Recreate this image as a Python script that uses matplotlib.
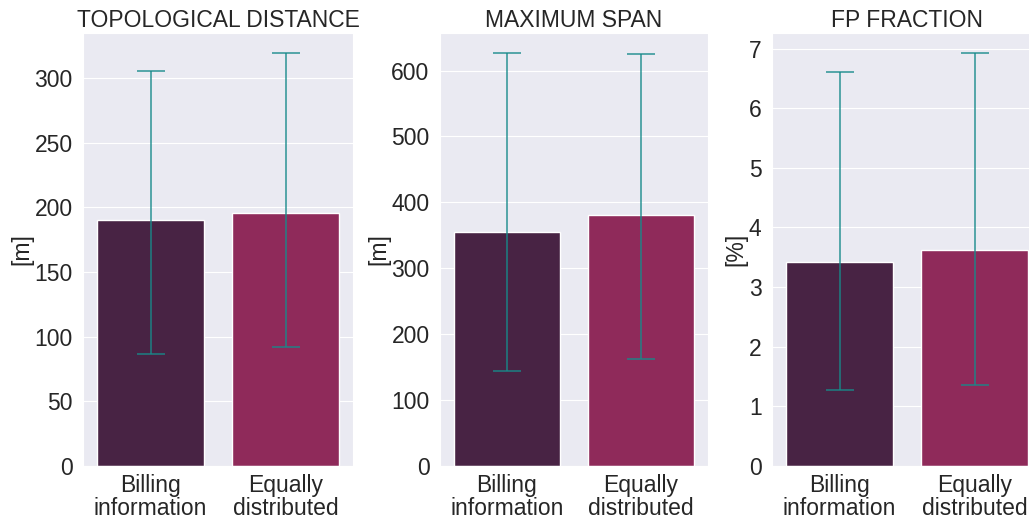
import numpy as np
import matplotlib
matplotlib.use("Agg")
import matplotlib.pyplot as plt
import seaborn as sns

sns.set_style("darkgrid")
plt.rcParams['font.family'] = ['Liberation Sans', 'DejaVu Sans']

# Scenario labels and summary values per metric (mean, lower / upper error bound)
scenarios = ["Billing\ninformation", "Equally\ndistributed"]
titles = ["TOPOLOGICAL DISTANCE", "MAXIMUM SPAN", "FP FRACTION"]
units = ["[m]", "[m]", "[%]"]

topo_mean = [190.5, 196.0]
topo_low = [86.4, 92.3]
topo_high = [305.7, 319.4]

span_mean = [354.7, 381.0]
span_low = [143.5, 163.0]
span_high = [627.0, 625.0]

fp_mean = [3.42, 3.62]
fp_low = [1.28, 1.365]
fp_high = [6.60, 6.92]

ylims = [335, 657, 7.26]
ystep = [50, 100, 1]
bar_colors = ["#482344", "#8f2a5a"]
err_color = "#178a8a"

fig = plt.figure(figsize=(10.29, 5.21), dpi=100)
W, H = 1029, 521
# axes boxes in pixels: left, bottom, width, height
boxes = [(83, 55, 270, 433), (440, 55, 268, 433), (772, 55, 270, 433)]

data = [(topo_mean, topo_low, topo_high),
        (span_mean, span_low, span_high),
        (fp_mean, fp_low, fp_high)]

for i, (mean, low, high) in enumerate(data):
    l, b, w, h = boxes[i]
    ax = fig.add_axes([l / W, b / H, w / W, h / H])
    x = np.arange(len(scenarios))
    mean = np.array(mean)
    yerr = np.array([mean - np.array(low), np.array(high) - mean])
    ax.bar(x, mean, width=0.79, color=bar_colors, edgecolor="white", linewidth=1)
    ax.errorbar(x, mean, yerr=yerr, fmt="none", ecolor=err_color, elinewidth=1.1,
                capsize=10, capthick=1.1, alpha=0.9)
    ax.set_xlim(-0.5, 1.5)
    ax.set_ylim(0, ylims[i])
    ax.set_yticks(np.arange(0, ylims[i], ystep[i]))
    ax.set_xticks(x)
    ax.set_xticklabels(scenarios, fontsize=16.5, linespacing=1.0)
    ax.tick_params(axis="y", labelsize=16.5, pad=4)
    ax.tick_params(axis="x", pad=2)
    ax.set_title(titles[i], fontsize=16.5, pad=4)
    ax.set_ylabel(units[i], fontsize=16.5, labelpad=1)
    ax.grid(axis="x", visible=False)

fig.savefig("out.png", dpi=100)
